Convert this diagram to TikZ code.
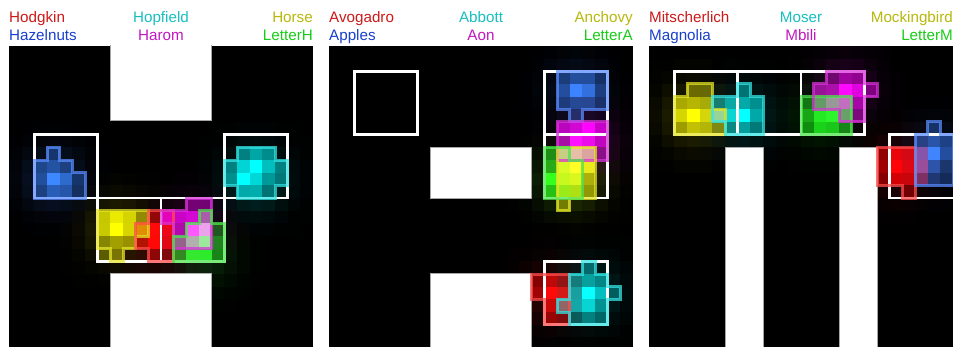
\documentclass[tikz,border=0pt]{standalone}
\usepackage{fontspec}
\setmainfont{Liberation Sans}
\definecolor{tRed}{rgb}{0.80,0.10,0.10}
\definecolor{tCyan}{rgb}{0.10,0.75,0.75}
\definecolor{tYel}{rgb}{0.72,0.72,0.05}
\definecolor{tBlue}{rgb}{0.10,0.25,0.80}
\definecolor{tMag}{rgb}{0.75,0.10,0.75}
\definecolor{tGreen}{rgb}{0.10,0.80,0.10}
\definecolor{cRed}{rgb}{1,0,0}
\definecolor{cCyan}{rgb}{0,1,1}
\definecolor{cYel}{rgb}{1,1,0}
\definecolor{cBlue}{rgb}{0.2,0.47,1}
\definecolor{cMag}{rgb}{1,0,1}
\definecolor{cGreen}{rgb}{0.1,1,0.1}
\definecolor{oRed}{rgb}{1,0.3,0.3}
\definecolor{oCyan}{rgb}{0.2,0.9,0.9}
\definecolor{oYel}{rgb}{0.9,0.9,0.15}
\definecolor{oBlue}{rgb}{0.35,0.55,1}
\definecolor{oMag}{rgb}{0.85,0.2,0.85}
\definecolor{oGreen}{rgb}{0.3,0.9,0.3}
\tikzset{
  lbl/.style={inner sep=0pt, font=\fontsize{15.2}{18}\selectfont},
  letterbox/.style={fill=white, draw=gray!70, line width=0.6pt},
  gridbox/.style={draw=white, line width=2.6pt},
  outl/.style={line width=3pt, opacity=0.75, line join=miter},
}
\newcommand\myhalo[4]{%
  \foreach \i in {-4,...,4}{\foreach \j in {-4,...,4}{%
    \pgfmathsetmacro\op{#4*exp(-(\i*\i+\j*\j)/5.5)}%
    \fill[#3, opacity=\op, blend mode=screen] (#1+\i,#2+\j) rectangle ++(1,1);%
  }}}
\newcommand\mycells[2]{%
  \foreach \c/\r/\o in {#2}{%
    \fill[#1, opacity=\o, blend mode=screen] (\c,\r) rectangle ++(1,1);}}
\begin{document}
\begin{tikzpicture}[x=1pt,y=-1pt]
\useasboundingbox (0,0) rectangle (953,347);
\fill[white] (0,0) rectangle (953,347);
% ---------- labels panel 1
\node[lbl, text=tRed, anchor=base west] (l1a) at (9,22.3) {Hodgkin};
\node[lbl, text=tBlue, anchor=base west] (l1b) at (9,40.7) {Hazelnuts};
\node[lbl, text=tCyan, anchor=base] (l1c) at (161,22.3) {Hopfield};
\node[lbl, text=tMag, anchor=base] (l1d) at (161,40.7) {Harom};
\node[lbl, text=tYel, anchor=base east] (l1e) at (313,22.3) {Horse};
\node[lbl, text=tGreen, anchor=base east] (l1f) at (313,40.7) {LetterH};
% ---------- labels panel 2
\node[lbl, text=tRed, anchor=base west] (l2a) at (329,22.3) {Avogadro};
\node[lbl, text=tBlue, anchor=base west] (l2b) at (329,40.7) {Apples};
\node[lbl, text=tCyan, anchor=base] (l2c) at (481,22.3) {Abbott};
\node[lbl, text=tMag, anchor=base] (l2d) at (481,40.7) {Aon};
\node[lbl, text=tYel, anchor=base east] (l2e) at (633,22.3) {Anchovy};
\node[lbl, text=tGreen, anchor=base east] (l2f) at (633,40.7) {LetterA};
% ---------- labels panel 3
\node[lbl, text=tRed, anchor=base west] (l3a) at (649,22.3) {Mitscherlich};
\node[lbl, text=tBlue, anchor=base west] (l3b) at (649,40.7) {Magnolia};
\node[lbl, text=tCyan, anchor=base] (l3c) at (801,22.3) {Moser};
\node[lbl, text=tMag, anchor=base] (l3d) at (801,40.7) {Mbili};
\node[lbl, text=tYel, anchor=base east] (l3e) at (953,22.3) {Mockingbird};
\node[lbl, text=tGreen, anchor=base east] (l3f) at (953,40.7) {LetterM};

% ================= PANEL 1 (H)
\begin{scope}[xshift=9pt, yshift=-46pt, x=12.667pt, y=-12.667pt]
\clip (0,0) rectangle (24,24);
\fill[black] (0,0) rectangle (24,24);
\draw[letterbox] (8,-1) rectangle (16,5.86);
\draw[letterbox] (8,17.97) rectangle (16,25);
% blue Hazelnuts
\myhalo{3}{10}{cBlue}{0.25}
\mycells{cBlue}{3/8/.35, 2/9/.45, 3/9/.55, 4/9/.4, 2/10/.5, 3/10/1, 4/10/.75, 5/10/.35, 2/11/.4, 3/11/.65, 4/11/.6, 5/11/.3}
% cyan Hopfield
\myhalo{19}{10}{cCyan}{0.24}
\mycells{cCyan}{18/8/.45, 19/8/.6, 20/8/.5, 17/9/.45, 18/9/.8, 19/9/1, 20/9/.7, 21/9/.45, 17/10/.5, 18/10/1, 19/10/.8, 20/10/.5, 21/10/.4, 18/11/.6, 19/11/.6, 20/11/.35}
% yellow Horse
\myhalo{8}{14}{cYel}{0.2}
\mycells{cYel}{7/13/.75, 8/13/.9, 9/13/.8, 10/13/.5, 7/14/.75, 8/14/1, 9/14/.8, 10/14/.5, 7/15/.45, 8/15/.55, 9/15/.5, 7/16/.3, 8/16/.4}
% red Hodgkin
\myhalo{11}{15}{cRed}{0.2}
\mycells{cRed}{11/13/.5, 12/13/.6, 10/14/.7, 11/14/1, 12/14/.9, 10/15/.6, 11/15/1, 12/15/.85, 11/16/.45, 12/16/.4}
% magenta Harom
\myhalo{14}{14}{cMag}{0.2}
\mycells{cMag}{14/12/.4, 15/12/.4, 12/13/.7, 13/13/.75, 14/13/.8, 15/13/.6, 13/14/.6, 14/14/1, 15/14/.9, 13/15/.45, 14/15/.6, 15/15/.5}
% green LetterH
\myhalo{15}{16}{cGreen}{0.16}
\mycells{cGreen}{15/13/.35, 14/14/.3, 15/14/.6, 16/14/.3, 13/15/.35, 14/15/.65, 15/15/.9, 16/15/.45, 13/16/.5, 14/16/.9, 15/16/.9, 16/16/.45}
% grid boxes
\draw[gridbox] (2,7) rectangle (7,12);
\draw[gridbox] (17,7) rectangle (22,12);
\draw[gridbox] (7,12) rectangle (12,17);
\draw[gridbox] (12,12) rectangle (17,17);
% outlines
\draw[outl, oBlue] (2,9) -- (3,9) -- (3,8) -- (4,8) -- (4,9) -- (5,9) -- (5,10) -- (6,10) -- (6,12) -- (2,12) -- cycle;
\draw[outl, oCyan] (18,8) -- (21,8) -- (21,9) -- (22,9) -- (22,11) -- (21,11) -- (21,12) -- (18,12) -- (18,11) -- (17,11) -- (17,9) -- (18,9) -- cycle;
\draw[outl, oYel] (7,13) -- (11,13) -- (11,15) -- (10,15) -- (10,16) -- (9,16) -- (9,17) -- (8,17) -- (8,16) -- (7,16) -- cycle;
\draw[outl, oRed] (10,14) -- (11,14) -- (11,13) -- (13,13) -- (13,17) -- (11,17) -- (11,16) -- (10,16) -- cycle;
\draw[outl, oMag] (14,12) -- (16,12) -- (16,16) -- (13,16) -- (13,14) -- (12,14) -- (12,13) -- (14,13) -- cycle;
\draw[outl, oGreen] (15,13) -- (16,13) -- (16,14) -- (17,14) -- (17,17) -- (13,17) -- (13,15) -- (14,15) -- (14,14) -- (15,14) -- cycle;
\end{scope}

% ================= PANEL 2 (A)
\begin{scope}[xshift=329pt, yshift=-46pt, x=12.667pt, y=-12.667pt]
\clip (0,0) rectangle (24,24);
\fill[black] (0,0) rectangle (24,24);
\draw[letterbox] (8,8) rectangle (16,12);
\draw[letterbox] (8,17.97) rectangle (16,25);
% blue Apples
\myhalo{19}{3}{cBlue}{0.18}
\mycells{cBlue}{18/2/.4, 19/2/.55, 20/2/.55, 21/2/.35, 18/3/.55, 19/3/1, 20/3/.85, 21/3/.45, 18/4/.4, 19/4/.5, 20/4/.5, 21/4/.35, 19/5/.3}
% magenta Aon
\myhalo{20}{7}{cMag}{0.2}
\mycells{cMag}{18/6/.7, 19/6/.8, 20/6/1, 21/6/.75, 18/7/.6, 19/7/1, 20/7/.9, 21/7/.7, 18/8/.45, 19/8/.6, 20/8/.55, 21/8/.45}
% yellow Anchovy
\myhalo{19}{10}{cYel}{0.2}
\mycells{cYel}{18/8/.5, 19/8/.7, 20/8/.6, 18/9/.8, 19/9/1, 20/9/.9, 18/10/.7, 19/10/.8, 20/10/.6, 18/11/.5, 19/11/.6, 20/11/.5, 18/12/.4}
% green LetterA
\myhalo{18}{10}{cGreen}{0.16}
\mycells{cGreen}{17/8/.5, 18/8/.55, 17/9/.6, 18/9/.9, 19/9/.7, 17/10/1, 18/10/.9, 19/10/.8, 17/11/.7, 18/11/.8, 19/11/.6}
% red Avogadro
\myhalo{17}{19}{cRed}{0.2}
\mycells{cRed}{16/18/.45, 17/18/.7, 18/18/.5, 16/19/.55, 17/19/1, 18/19/.8, 17/20/.75, 18/20/.5, 17/21/.55, 18/21/.45}
% cyan Abbott
\myhalo{20}{19}{cCyan}{0.2}
\mycells{cCyan}{20/17/.35, 19/18/.4, 20/18/.55, 21/18/.45, 19/19/.55, 20/19/1, 21/19/.7, 22/19/.3, 18/20/.35, 19/20/.6, 20/20/.8, 21/20/.5, 19/21/.3, 20/21/.45, 21/21/.35}
% grid boxes
\draw[gridbox] (2,2) rectangle (7,7);
\draw[gridbox] (17,2) rectangle (22,7);
\draw[gridbox] (17,7) rectangle (22,12);
\draw[gridbox] (17,17) rectangle (22,22);
% outlines
\draw[outl, oBlue] (18,2) -- (22,2) -- (22,5) -- (20,5) -- (20,6) -- (19,6) -- (19,5) -- (18,5) -- cycle;
\draw[outl, oMag] (18,6) -- (22,6) -- (22,9) -- (18,9) -- cycle;
\draw[outl, oYel] (18,8) -- (21,8) -- (21,12) -- (19,12) -- (19,13) -- (18,13) -- cycle;
\draw[outl, oGreen] (17,8) -- (19,8) -- (19,9) -- (20,9) -- (20,12) -- (17,12) -- cycle;
\draw[outl, oRed] (16,18) -- (19,18) -- (19,22) -- (17,22) -- (17,20) -- (16,20) -- cycle;
\draw[outl, oCyan] (20,17) -- (21,17) -- (21,18) -- (22,18) -- (22,19) -- (23,19) -- (23,20) -- (22,20) -- (22,22) -- (19,22) -- (19,21) -- (18,21) -- (18,20) -- (19,20) -- (19,18) -- (20,18) -- cycle;
\end{scope}

% ================= PANEL 3 (M)
\begin{scope}[xshift=649pt, yshift=-46pt, x=12.667pt, y=-12.667pt]
\clip (0,0) rectangle (24,24);
\fill[black] (0,0) rectangle (24,24);
\draw[letterbox] (6,8) rectangle (9,25);
\draw[letterbox] (15,8) rectangle (18,25);
% yellow Mockingbird
\myhalo{3}{5}{cYel}{0.22}
\mycells{cYel}{3/3/.35, 4/3/.35, 2/4/.6, 3/4/.65, 4/4/.6, 2/5/.8, 3/5/1, 4/5/.8, 5/5/.55, 2/6/.55, 3/6/.7, 4/6/.65, 5/6/.45}
% cyan Moser
\myhalo{7}{5}{cCyan}{0.18}
\mycells{cCyan}{7/3/.4, 5/4/.4, 6/4/.6, 7/4/.6, 8/4/.5, 5/5/.55, 6/5/.8, 7/5/1, 8/5/.6, 6/6/.45, 7/6/.55, 8/6/.4}
% green LetterM
\myhalo{13}{5}{cGreen}{0.16}
\mycells{cGreen}{12/4/.4, 13/4/.55, 14/4/.55, 15/4/.4, 12/5/.6, 13/5/.9, 14/5/.95, 15/5/.6, 12/6/.5, 13/6/.8, 14/6/.75, 15/6/.5}
% magenta Mbili
\myhalo{15}{3}{cMag}{0.2}
\mycells{cMag}{14/2/.35, 15/2/.55, 16/2/.5, 13/3/.55, 14/3/.6, 15/3/1, 16/3/.85, 17/3/.45, 13/4/.3, 14/4/.5, 15/4/.7, 16/4/.6, 15/5/.3, 16/5/.45}
% red Mitscherlich
\myhalo{19}{9}{cRed}{0.2}
\mycells{cRed}{18/8/.5, 19/8/.9, 20/8/.8, 21/8/.4, 18/9/.55, 19/9/1, 20/9/.85, 21/9/.5, 18/10/.45, 19/10/.8, 20/10/.75, 21/10/.4, 20/11/.4}
% blue Magnolia
\myhalo{22}{8}{cBlue}{0.18}
\mycells{cBlue}{22/6/.35, 21/7/.45, 22/7/.6, 23/7/.45, 21/8/.6, 22/8/1, 23/8/.55, 21/9/.55, 22/9/.6, 23/9/.35, 21/10/.35, 22/10/.4, 23/10/.3}
% grid boxes
\draw[gridbox] (2,2) rectangle (7,7);
\draw[gridbox] (7,2) rectangle (12,7);
\draw[gridbox] (12,2) rectangle (17,7);
\draw[gridbox] (19,7) rectangle (24.2,12);
% outlines
\draw[outl, oYel] (3,3) -- (5,3) -- (5,5) -- (6,5) -- (6,7) -- (2,7) -- (2,4) -- (3,4) -- cycle;
\draw[outl, oCyan] (5,4) -- (7,4) -- (7,3) -- (8,3) -- (8,4) -- (9,4) -- (9,7) -- (6,7) -- (6,6) -- (5,6) -- cycle;
\draw[outl, oGreen] (12,4) -- (16,4) -- (16,7) -- (12,7) -- cycle;
\draw[outl, oMag] (14,2) -- (17,2) -- (17,3) -- (18,3) -- (18,4) -- (17,4) -- (17,6) -- (15,6) -- (15,5) -- (13,5) -- (13,3) -- (14,3) -- cycle;
\draw[outl, oRed] (18,8) -- (21,8) -- (21,11) -- (21,12) -- (20,12) -- (20,11) -- (18,11) -- cycle;
\draw[outl, oBlue] (22,6) -- (23,6) -- (23,7) -- (24,7) -- (24,11) -- (21,11) -- (21,7) -- (22,7) -- cycle;
\end{scope}
\end{tikzpicture}
\end{document}
